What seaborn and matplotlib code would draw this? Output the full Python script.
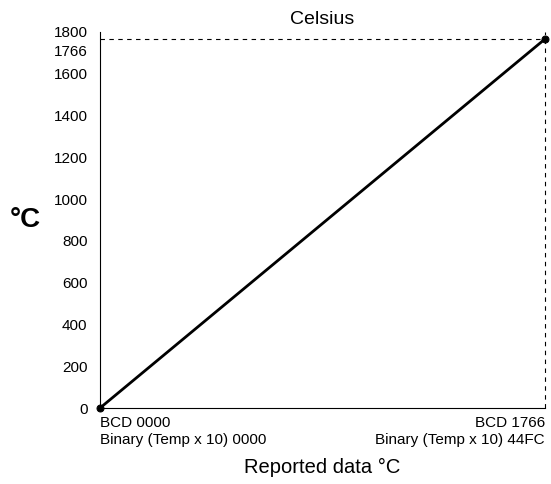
import numpy as np
import pandas as pd
import matplotlib
matplotlib.use('Agg')
import matplotlib.pyplot as plt
import matplotlib.transforms as mtransforms
import seaborn as sns

# 데이터
reported = [0, 1766]
celsius = [0, 1766]
y_ticks = [0, 200, 400, 600, 800, 1000, 1200, 1400, 1600, 1766, 1800]
x_tick_labels = ['BCD 0000\nBinary (Temp x 10) 0000', 'BCD 1766\nBinary (Temp x 10) 44FC']

sns.set_style('white')
plt.rcParams['font.family'] = ['Liberation Sans', 'DejaVu Sans']
plt.rcParams['text.color'] = 'black'
plt.rcParams['xtick.color'] = 'black'
plt.rcParams['ytick.color'] = 'black'
plt.rcParams['axes.labelcolor'] = 'black'

df = pd.DataFrame({'reported': reported, 'celsius': celsius})

fig = plt.figure(figsize=(5.51, 4.84), dpi=100)
ax = fig.add_axes([0.1815, 0.157, 0.989 - 0.1815, 0.934 - 0.157])

sns.lineplot(data=df, x='reported', y='celsius', color='black', linewidth=2,
             marker='o', markersize=5, markeredgecolor='black', ax=ax, clip_on=False)

# 점선 가이드
ax.axhline(1766, color='black', linestyle=(0, (4, 4)), linewidth=0.8, clip_on=False)
ax.axvline(1766, color='black', linestyle=(0, (4, 4)), linewidth=0.8, clip_on=False)

ax.set_xlim(0, 1766)
ax.set_ylim(0, 1800)
ax.set_yticks(y_ticks)
ax.set_yticklabels([str(v) for v in y_ticks], fontsize=11)
ax.set_xticks(reported)
ax.set_xticklabels(x_tick_labels, fontsize=11, linespacing=1.25)
labels = ax.get_xticklabels()
labels[0].set_ha('left')
labels[1].set_ha('right')
ax.tick_params(axis='both', length=0)
ax.tick_params(axis='y', pad=9)
ax.tick_params(axis='x', pad=6)

# 1766 라벨을 1800과 겹치지 않도록 아래로
for lab in ax.get_yticklabels():
    if lab.get_text() == '1766':
        lab.set_transform(lab.get_transform() + mtransforms.ScaledTranslation(0, -11 / 100, fig.dpi_scale_trans))

for side in ['top', 'right']:
    ax.spines[side].set_visible(False)
for side in ['left', 'bottom']:
    ax.spines[side].set_color('black')
    ax.spines[side].set_linewidth(0.8)

ax.set_title('Celsius', fontsize=14, pad=6)
ax.set_xlabel('Reported data °C', fontsize=14.5, labelpad=8)
ax.set_ylabel('°C', fontsize=20, fontweight='bold', rotation=0, labelpad=20, va='center')

fig.savefig('out.png', dpi=100)
